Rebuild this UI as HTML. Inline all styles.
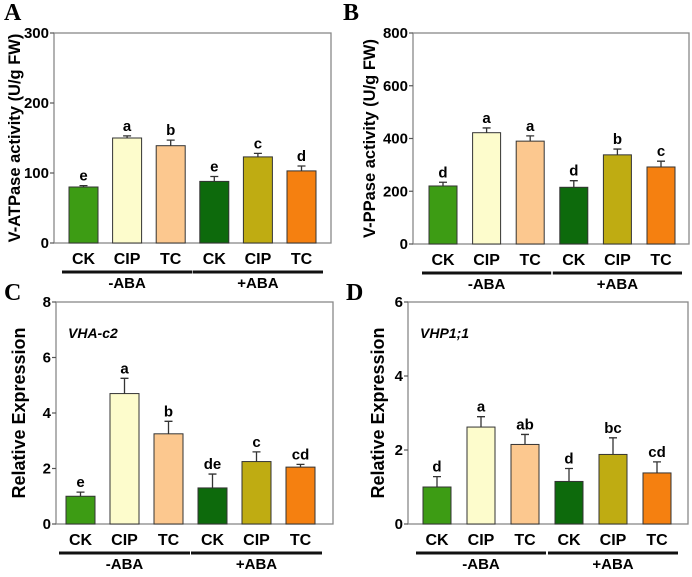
<!DOCTYPE html>
<html><head><meta charset="utf-8"><style>
body{margin:0;background:#fff;}
svg text{font-family:"Liberation Sans",Arial,sans-serif;font-weight:bold;}
</style></head><body>
<svg id="fig" width="692" height="572" viewBox="0 0 692 572" xmlns="http://www.w3.org/2000/svg"></svg>
<script>
const categories=["CK","CIP","TC","CK","CIP","TC"];
const groups=["-ABA","+ABA"];
const colors=["#3d9c14","#fdfccc","#fcc88f","#0d6a0c","#bfac12","#f58010"];
const valuesA=[80,150,139,88,123,103];
const errorsA=[2,3,8,7,5,7];
const lettersA=["e","a","b","e","c","d"];
const valuesB=[220,422,390,215,338,292];
const errorsB=[14,18,20,25,22,22];
const lettersB=["d","a","a","d","b","c"];
const valuesC=[1.0,4.7,3.25,1.3,2.25,2.05];
const errorsC=[0.15,0.55,0.45,0.5,0.35,0.1];
const lettersC=["e","a","b","de","c","cd"];
const valuesD=[1.0,2.62,2.15,1.15,1.88,1.38];
const errorsD=[0.28,0.28,0.27,0.35,0.45,0.3];
const lettersD=["d","a","ab","d","bc","cd"];
const ticksA=[0,100,200,300];
const ticksB=[0,200,400,600,800];
const ticksC=[0,2,4,6,8];
const ticksD=[0,2,4,6];

const NS="http://www.w3.org/2000/svg";
const svg=document.getElementById('fig');
function mk(tag,attrs,parent,txt){const e=document.createElementNS(NS,tag);for(const k in attrs)e.setAttribute(k,attrs[k]);if(txt!==undefined)e.textContent=txt;(parent||svg).appendChild(e);return e;}

function panel(p){
  const g=mk('g',{});
  
  
  const max=p.ticks[p.ticks.length-1];
  const y=v=>p.bottom-(v/max)*(p.bottom-p.top);
  const x=i=>p.x0+i*p.step;
  const t=mk('text',{x:p.lx,y:p.ly,'font-size':24,style:'font-family:"Liberation Serif",serif'},g,p.id);
  
  
  const box=mk('rect',{x:p.left,y:p.top,width:p.right-p.left,height:p.bottom-p.top,fill:'none',stroke:'#888','stroke-width':1.3},g);
  
  
  p.ticks.forEach(v=>{
    mk('line',{x1:p.left-4,x2:p.left,y1:y(v),y2:y(v),stroke:'#555','stroke-width':1.2},g);
    const tl=mk('text',{x:p.left-5,y:y(v)+5,'font-size':15,'text-anchor':'end'},g,v);
    
    
  });
  const cy=(p.top+p.bottom)/2;
  const yt=mk('text',{x:p.ytx,y:cy,'font-size':p.ytfs||16.5,'text-anchor':'middle',transform:`rotate(-90 ${p.ytx} ${cy})`},g,p.ytitle);
  
  
  if(p.gene){
    const gt=mk('text',{x:p.left+12,y:p.top+36,'font-size':14,'font-style':'italic'},g,p.gene);
    
    
  }
  p.values.forEach((v,i)=>{
    const bx=x(i), top=y(v), et=y(v+p.errors[i]);
    const r=mk('rect',{x:bx,y:top,width:p.bw,height:p.bottom-top,fill:colors[i],stroke:'#333','stroke-width':1},g);
    
    
    const cx=bx+p.bw/2;
    const el=mk('path',{d:`M${cx} ${top}V${et}M${cx-4} ${et}H${cx+4}`,stroke:'#333','stroke-width':1.3,fill:'none'},g);
    
    
    const lt=mk('text',{x:cx,y:et-5,'font-size':15,'text-anchor':'middle'},g,p.letters[i]);
    
    
    const cl=mk('text',{x:cx,y:p.bottom+21,'font-size':16,'text-anchor':'middle'},g,categories[i]);
    
    
  });
  groups.forEach((gn,k)=>{
    const a=x(k*3)-7, b=x(k*3+2)+p.bw+7;
    const ln=mk('line',{x1:a,x2:b,y1:p.bottom+29,y2:p.bottom+29,stroke:'#111','stroke-width':3},g);
    
    
    const gl=mk('text',{x:(a+b)/2,y:p.bottom+45,'font-size':15,'text-anchor':'middle'},g,gn);
    
    
  });
}
panel({id:'A',lx:4,ly:20,left:54,right:331,top:33,bottom:243,x0:69,step:43.6,bw:29,ticks:ticksA,values:valuesA,errors:errorsA,letters:lettersA,ytx:20,ytitle:'V-ATPase activity (U/g FW)'});
panel({id:'B',lx:343,ly:20,left:413,right:689,top:33,bottom:244,x0:429,step:43.6,bw:28,ticks:ticksB,values:valuesB,errors:errorsB,letters:lettersB,ytx:375,ytitle:'V-PPase activity (U/g FW)'});
panel({id:'C',lx:4,ly:300,left:56,right:333,top:302,bottom:524,x0:66,step:44,bw:29,ticks:ticksC,values:valuesC,errors:errorsC,letters:lettersC,ytx:25,ytfs:18,ytitle:'Relative Expression',gene:'VHA-c2'});
panel({id:'D',lx:346,ly:300,left:408,right:688,top:302,bottom:524,x0:423,step:44,bw:28,ticks:ticksD,values:valuesD,errors:errorsD,letters:lettersD,ytx:384,ytfs:18,ytitle:'Relative Expression',gene:'VHP1;1'});
</script>
</body></html>
